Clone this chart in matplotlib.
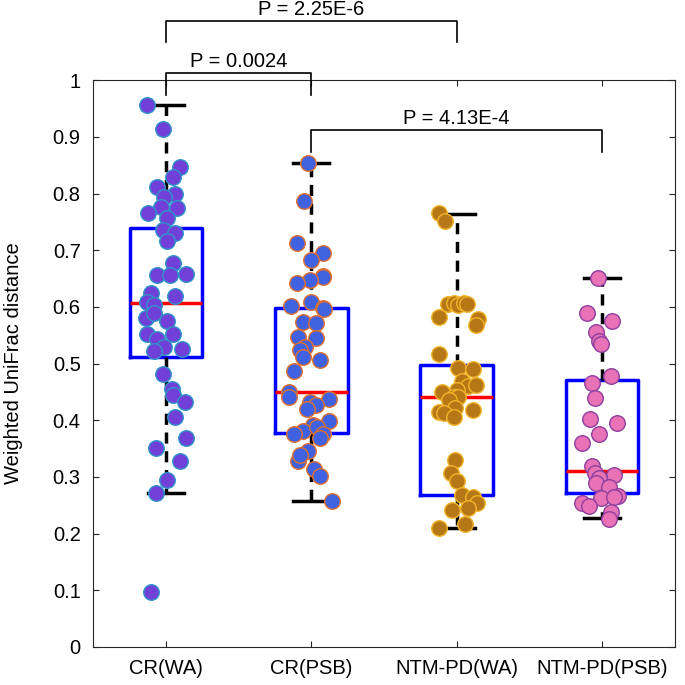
import numpy as np
import matplotlib.pyplot as plt

plt.rcParams['font.family'] = ['Liberation Sans', 'DejaVu Sans']

# groups
groups = ['CR(WA)', 'CR(PSB)', 'NTM-PD(WA)', 'NTM-PD(PSB)']

# box statistics: lower cap, q1, median, q3, upper cap
whislo = [0.272, 0.257, 0.210, 0.228]
q1 = [0.511, 0.377, 0.268, 0.272]
med = [0.607, 0.450, 0.441, 0.310]
q3 = [0.739, 0.598, 0.497, 0.471]
whishi = [0.956, 0.853, 0.763, 0.651]

# individual samples (value, horizontal jitter in category units)
cr_wa = [0.956, 0.913, 0.846, 0.829, 0.811, 0.800, 0.794, 0.776, 0.774, 0.765,
         0.757, 0.735, 0.730, 0.716, 0.677, 0.656, 0.656, 0.658, 0.624, 0.619,
         0.608, 0.603, 0.580, 0.589, 0.575, 0.552, 0.552, 0.543, 0.529, 0.522,
         0.526, 0.481, 0.455, 0.444, 0.432, 0.406, 0.369, 0.351, 0.328, 0.295,
         0.272, 0.097]
cr_wa_jit = [-0.13, -0.02, 0.10, 0.05, -0.06, 0.06, -0.01, -0.03, 0.08, -0.12,
             0.01, -0.02, 0.06, 0.01, 0.05, -0.06, 0.03, 0.14, -0.10, 0.06,
             -0.13, -0.08, -0.14, -0.08, 0.01, -0.13, 0.05, -0.06, -0.01, -0.08,
             0.11, -0.02, 0.04, 0.05, 0.13, 0.06, 0.14, -0.07, 0.10, 0.01,
             -0.07, -0.10]

cr_psb = [0.853, 0.787, 0.713, 0.695, 0.683, 0.654, 0.652, 0.647, 0.642, 0.608,
          0.601, 0.598, 0.596, 0.573, 0.571, 0.547, 0.545, 0.529, 0.524, 0.512,
          0.506, 0.487, 0.450, 0.441, 0.432, 0.437, 0.427, 0.420, 0.399, 0.392,
          0.381, 0.376, 0.388, 0.376, 0.369, 0.346, 0.328, 0.339, 0.314, 0.302,
          0.257]
cr_psb_jit = [-0.02, -0.05, -0.10, 0.08, 0.00, 0.08, 0.08, -0.01, -0.10, 0.00,
              -0.14, 0.08, 0.09, -0.06, 0.03, -0.09, 0.03, -0.04, -0.08, -0.06,
              0.06, -0.12, -0.15, -0.15, -0.01, 0.12, 0.03, -0.03, 0.12, 0.01,
              -0.06, -0.12, 0.04, 0.08, 0.06, -0.02, -0.09, -0.08, 0.02, 0.06,
              0.14]

ntm_wa = [0.765, 0.752, 0.605, 0.606, 0.603, 0.607, 0.605, 0.582, 0.578, 0.568,
          0.517, 0.492, 0.490, 0.469, 0.460, 0.462, 0.453, 0.450, 0.441, 0.441,
          0.436, 0.422, 0.418, 0.414, 0.413, 0.406, 0.330, 0.307, 0.293, 0.268,
          0.265, 0.254, 0.245, 0.242, 0.210, 0.217]
ntm_wa_jit = [-0.12, -0.08, -0.06, -0.02, 0.01, 0.05, 0.07, -0.12, 0.15, 0.13,
              -0.12, 0.01, 0.11, 0.04, 0.08, 0.13, 0.00, -0.10, -0.02, 0.01,
              -0.05, -0.01, 0.11, -0.12, -0.09, -0.02, -0.01, -0.04, -0.00, 0.04,
              0.11, 0.14, 0.08, -0.03, -0.12, 0.06]

ntm_psb = [0.651, 0.589, 0.575, 0.556, 0.540, 0.534, 0.478, 0.466, 0.439, 0.402,
           0.395, 0.376, 0.360, 0.319, 0.307, 0.303, 0.298, 0.289, 0.282, 0.266,
           0.263, 0.265, 0.254, 0.249, 0.238, 0.226]
ntm_psb_jit = [-0.03, -0.10, 0.07, -0.04, -0.02, -0.01, 0.06, -0.07, -0.05, -0.08,
               0.10, -0.02, -0.14, -0.07, -0.05, 0.08, -0.02, -0.04, 0.05, 0.11,
               -0.01, 0.08, -0.14, -0.09, 0.06, 0.05]

values = [cr_wa, cr_psb, ntm_wa, ntm_psb]
jitter = [cr_wa_jit, cr_psb_jit, ntm_wa_jit, ntm_psb_jit]
face_colors = ['#7040d8', '#4062e0', '#b67816', '#e872b6']
edge_colors = ['#2f94c8', '#e0702e', '#f2b428', '#8e3e9e']

# significance brackets: (group a, group b, bracket height, leg bottom, label)
brackets = [(0, 2, 1.104, 1.067, 'P = 2.25E-6'),
            (0, 1, 1.012, 0.974, 'P = 0.0024'),
            (1, 3, 0.912, 0.873, 'P = 4.13E-4')]

fig = plt.figure(figsize=(6.85, 6.85), dpi=100)
ax = fig.add_axes([0.136, 0.0555, 0.849, 0.8275])

pos = np.arange(1, len(groups) + 1)
stats = []
for i in range(len(groups)):
    stats.append({'whislo': whislo[i], 'q1': q1[i], 'med': med[i],
                  'q3': q3[i], 'whishi': whishi[i], 'fliers': []})

ax.bxp(stats, positions=pos, widths=0.5, showfliers=False,
       boxprops=dict(color='#0000ff', linewidth=2.5),
       medianprops=dict(color='#ff0000', linewidth=2.5),
       whiskerprops=dict(color='black', linewidth=2.5, linestyle=(0, (3.2, 2.2))),
       capprops=dict(color='black', linewidth=2.5),
       capwidths=0.25)

for i in range(len(groups)):
    x = pos[i] + np.array(jitter[i])
    ax.scatter(x, values[i], s=125, c=face_colors[i], edgecolors=edge_colors[i],
               linewidths=1.0, zorder=3)

# p-value brackets above the boxes
for a, b, h, leg, label in brackets:
    xa, xb = pos[a], pos[b]
    ax.plot([xa, xa, xb, xb], [leg, h, h, leg], color='black', linewidth=1.2,
            clip_on=False, zorder=4)
    ax.text((xa + xb) / 2, h + 0.011, label, ha='center', va='baseline',
            fontsize=14.5, clip_on=False)

ax.set_xlim(0.5, 4.5)
ax.set_ylim(0, 1)
ax.set_xticks(pos)
ax.set_xticklabels(groups)
ax.set_yticks(np.arange(0, 1.01, 0.1))
ax.set_yticklabels(['0'] + ['%.1f' % v for v in np.arange(0.1, 0.95, 0.1)] + ['1'])
ax.tick_params(direction='in', top=True, right=True, length=4, width=0.8,
               labelsize=14.5, color='#262626')
ax.tick_params(axis='x', pad=9)
ax.tick_params(axis='y', pad=9)
for sp in ax.spines.values():
    sp.set_color('#262626')
    sp.set_linewidth(0.8)
ax.set_ylabel('Weighted UniFrac distance', fontsize=14.5, labelpad=21)

plt.savefig('out.png', dpi=100)
plt.close()
